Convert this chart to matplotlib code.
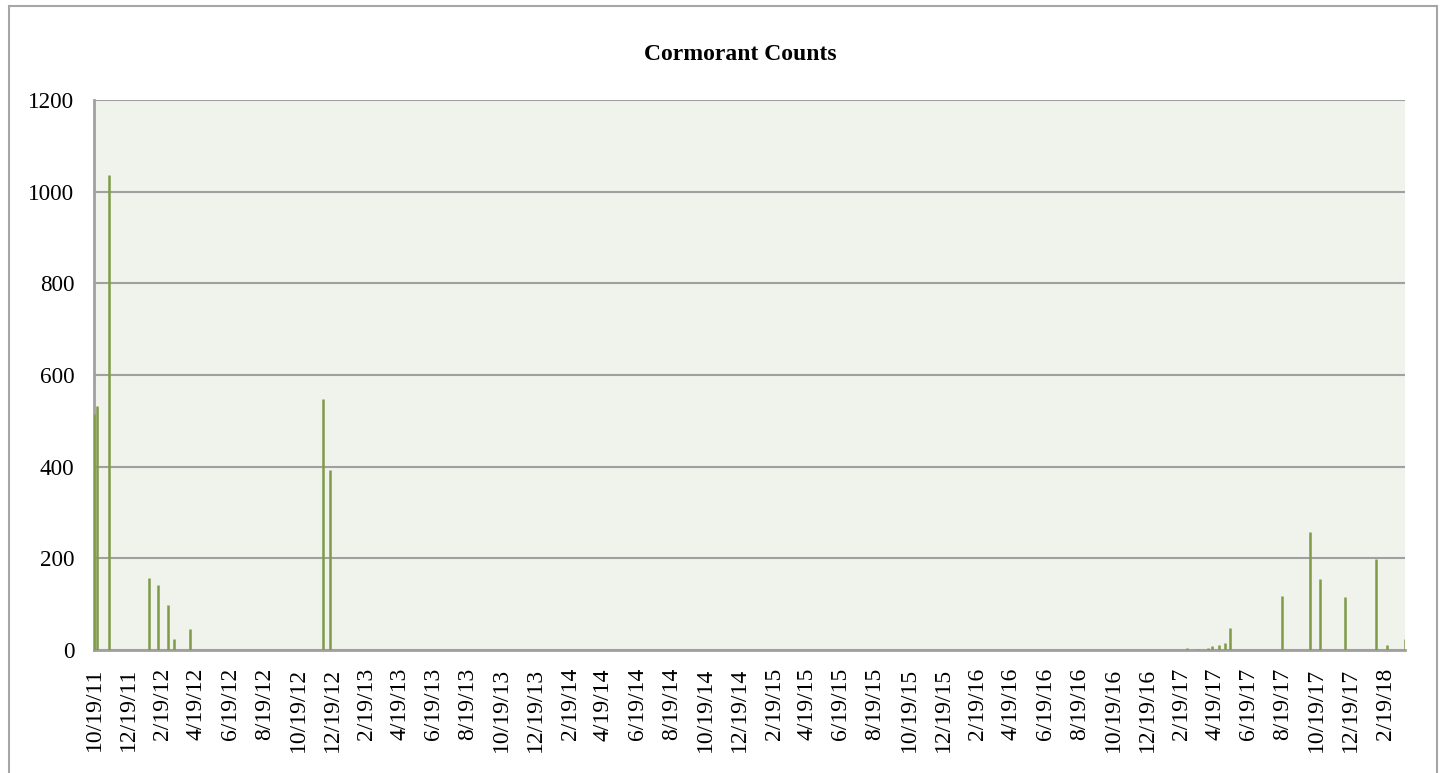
import matplotlib
matplotlib.use("Agg")
import matplotlib.pyplot as plt
import matplotlib.dates as mdates
from matplotlib.patches import Rectangle
import pandas as pd

# ---- data ----
dates = ["2011-10-19", "2011-10-25", "2011-11-14", "2012-01-25", "2012-02-11",
         "2012-02-29", "2012-03-10", "2012-04-08", "2012-12-02", "2012-12-15",
         "2017-02-28", "2017-03-20", "2017-04-06", "2017-04-14", "2017-04-26",
         "2017-05-08", "2017-05-16", "2017-08-17", "2017-10-06", "2017-10-25",
         "2017-12-08", "2018-02-02", "2018-02-22", "2018-03-26"]
counts = [516, 533, 1036, 158, 142,
          98, 24, 45, 548, 393,
          5, 3, 5, 8, 10,
          15, 48, 118, 258, 154,
          116, 199, 12, 23]
title = "Cormorant Counts"
tick_start = "2011-10-19"
tick_end = "2018-02-19"
y_ticks = [0, 200, 400, 600, 800, 1000, 1200]

W, H = 1445, 773
fig = plt.figure(figsize=(W / 100, H / 100), dpi=100)
plt.rcParams['font.family'] = ['Liberation Serif', 'DejaVu Serif']

# outer chart border
fig.add_artist(Rectangle((8.5 / W, -0.05), (1437 - 8.5) / W, 1.05 - 6 / H,
                         transform=fig.transFigure, fill=False,
                         edgecolor="#A6A6A6", linewidth=1.5))

left, right, top, bottom = 94, 1405, 100, 650
ax = fig.add_axes([left / W, (H - bottom) / H, (right - left) / W, (bottom - top) / H])
ax.set_facecolor("#F0F3EC")

d = pd.to_datetime(dates)
x = mdates.date2num(d.to_pydatetime())
ax.vlines(x, 0, counts, colors="#7F9B47", linewidth=1.8, zorder=5,
          capstyle="butt")

ax.set_xlim(x[0], x[-1])
ax.set_ylim(0, 1200)
ax.set_yticks(y_ticks)
ax.yaxis.grid(True, color="#A0A0A0", linewidth=1.5, zorder=1)
ax.set_axisbelow(True)

ticks = pd.date_range(tick_start, tick_end, freq=pd.DateOffset(months=2))
tx = mdates.date2num(ticks.to_pydatetime())
ax.set_xticks(tx)
ax.set_xticklabels([f"{t.month}/{t.day}/{t.year % 100:02d}" for t in ticks],
                   rotation=90, fontsize=17)
ax.tick_params(axis="x", length=0, pad=13)
ax.tick_params(axis="y", length=0, pad=14, labelsize=16.7)

for s in ["top", "right"]:
    ax.spines[s].set_visible(False)
for s in ["left", "bottom"]:
    ax.spines[s].set_color("#A0A0A0")
    ax.spines[s].set_linewidth(2)
    ax.spines[s].set_zorder(4)

fig.text(740 / W, 1 - 54 / H, title, ha="center", va="center",
         fontsize=17, fontweight="bold")

fig.savefig("out.png", dpi=100)
